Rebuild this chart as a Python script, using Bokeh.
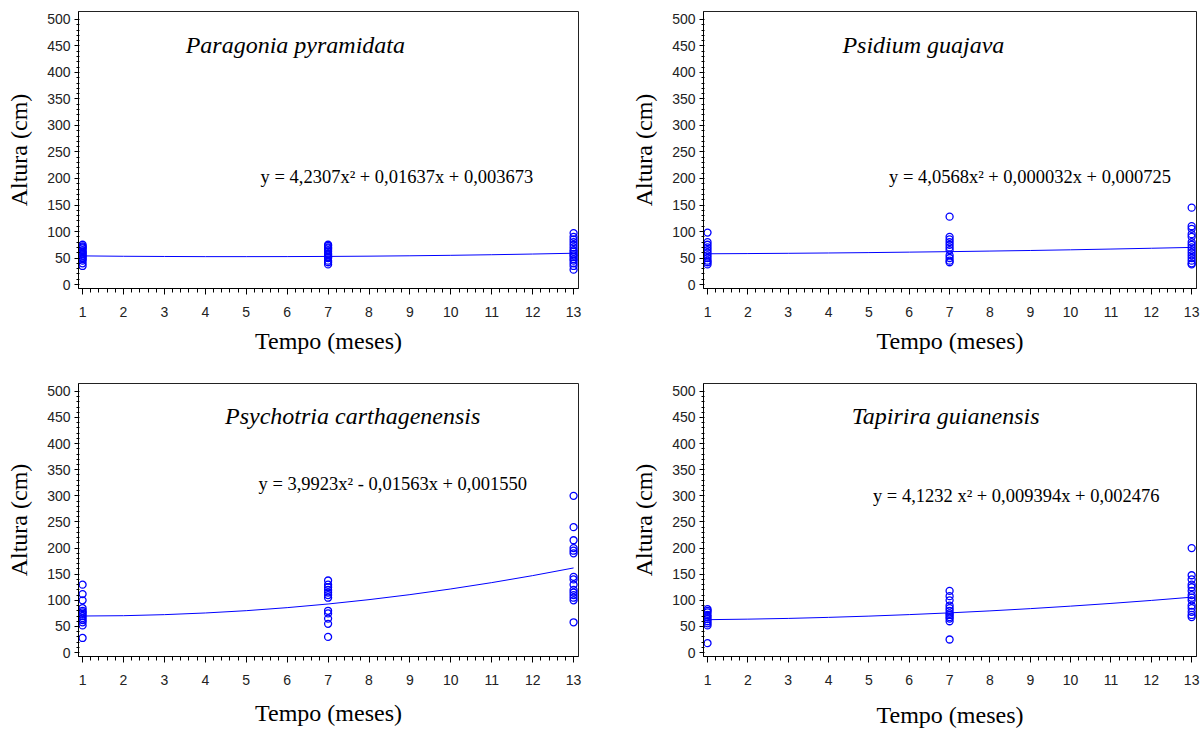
from bokeh.plotting import figure
from bokeh.layouts import gridplot
from bokeh.models import FixedTicker, Range1d
from bokeh.core.properties import value
from bokeh.embed import file_html
from bokeh.resources import INLINE

# ---------------- data ----------------
months = [1, 7, 13]
fit_months = [1, 2, 3, 4, 5, 6, 7, 8, 9, 10, 11, 12, 13]

species = ["Paragonia pyramidata", "Psidium guajava",
           "Psychotria carthagenensis", "Tapirira guianensis"]

equations = ["y = 4,2307x\u00b2 + 0,01637x + 0,003673",
             "y = 4,0568x\u00b2 + 0,000032x + 0,000725",
             "y = 3,9923x\u00b2 - 0,01563x + 0,001550",
             "y = 4,1232 x\u00b2 + 0,009394x + 0,002476"]

# observed heights (cm) at months 1, 7, 13
paragonia_m1 = [35, 40, 45, 48, 50, 53, 55, 58, 60, 62, 65, 68, 70, 72, 75]
paragonia_m7 = [38, 42, 45, 50, 52, 55, 58, 62, 65, 68, 70, 73, 75]
paragonia_m13 = [28, 35, 40, 45, 48, 52, 55, 58, 62, 65, 70, 75, 80, 85, 90, 97]

psidium_m1 = [38, 42, 45, 50, 55, 60, 65, 70, 75, 80, 98]
psidium_m7 = [42, 45, 50, 55, 65, 70, 75, 80, 85, 90, 128]
psidium_m13 = [38, 40, 45, 50, 55, 60, 65, 70, 75, 80, 90, 95, 105, 110, 145]

psychotria_m1 = [28, 52, 58, 62, 66, 70, 74, 77, 80, 85, 100, 112, 130]
psychotria_m7 = [30, 55, 65, 75, 80, 105, 110, 115, 120, 125, 130, 138]
psychotria_m13 = [58, 100, 105, 110, 115, 120, 130, 140, 145, 190, 195, 200, 215, 240, 300]

tapirira_m1 = [18, 52, 56, 60, 64, 68, 72, 77, 80, 83]
tapirira_m7 = [25, 60, 65, 68, 72, 75, 80, 85, 90, 100, 108, 118]
tapirira_m13 = [68, 72, 78, 85, 90, 100, 105, 110, 118, 125, 130, 140, 148, 200]

# fitted curves (cm) read at months 1..13
paragonia_fit = [54, 53.3, 52.9, 52.6, 52.6, 52.7, 53.0, 53.5, 54.2, 55.1, 56.2, 57.5, 59]
psidium_fit = [58, 58.4, 58.9, 59.5, 60.2, 61.1, 62, 63.1, 64.2, 65.5, 66.9, 68.4, 70]
psychotria_fit = [70, 70.6, 72.6, 75.8, 80.2, 86.0, 93.0, 101.3, 110.9, 121.8, 133.9, 147.3, 162]
tapirira_fit = [63, 64.0, 65.4, 67.4, 69.8, 72.7, 76.0, 79.8, 84.1, 88.9, 94.1, 99.8, 106]

x_ticks = list(range(1, 14))
y_ticks = list(range(0, 501, 50))

observed = [
    [paragonia_m1, paragonia_m7, paragonia_m13],
    [psidium_m1, psidium_m7, psidium_m13],
    [psychotria_m1, psychotria_m7, psychotria_m13],
    [tapirira_m1, tapirira_m7, tapirira_m13],
]
fits = [paragonia_fit, psidium_fit, psychotria_fit, tapirira_fit]

# ---------------- layout / style ----------------
SERIF = "Liberation Serif"
SANS = "Liberation Sans"
BLUE = "#0000ff"

# (width, height, border_left, border_right, border_top, border_bottom,
#  title_pos, eq_pos, x-title standoff)
layout = [
    (628, 380, 78, 50, 11, 92, (6.2, 451), (5.35, 202), 8),
    (574, 380, 70, 6, 11, 92, (6.35, 451), (5.5, 202), 8),
    (628, 350, 78, 50, 3, 72, (7.6, 453), (5.3, 323), 12),
    (574, 350, 70, 6, 3, 72, (6.9, 453), (5.1, 300), 14),
]

minor_x = [1 + i * 0.2 for i in range(61)]
minor_y = list(range(0, 501, 10))

plots = []
for i in range(4):
    w, h, bl, br, bt, bb, tpos, epos, xstand = layout[i]
    p = figure(width=w, height=h, output_backend="svg", toolbar_location=None,
               x_range=Range1d(0.9, 13.12), y_range=Range1d(-7.5, 515),
               min_border_left=bl, min_border_right=br,
               min_border_top=bt, min_border_bottom=bb)
    p.xgrid.visible = False
    p.ygrid.visible = False
    p.outline_line_color = "#222222"
    p.outline_line_width = 1
    p.background_fill_color = "white"
    p.border_fill_color = "white"

    p.xaxis.ticker = FixedTicker(ticks=x_ticks, minor_ticks=minor_x)
    p.yaxis.ticker = FixedTicker(ticks=y_ticks, minor_ticks=minor_y)
    for ax in (p.xaxis[0], p.yaxis[0]):
        ax.axis_line_color = "black"
        ax.major_tick_line_color = "black"
        ax.minor_tick_line_color = "black"
        ax.major_label_text_font = SANS
        ax.major_label_text_font_size = "14px"
        ax.major_label_text_color = "#222222"
        ax.axis_label_text_font = SERIF
        ax.axis_label_text_font_style = "normal"
        ax.axis_label_text_font_size = "24px"
        ax.axis_label_text_color = "black"
    p.xaxis.major_tick_out = 6
    p.xaxis.major_tick_in = 0
    p.xaxis.minor_tick_out = 4
    p.xaxis.minor_tick_in = 0
    p.yaxis.major_tick_out = 4
    p.yaxis.major_tick_in = 0
    p.yaxis.minor_tick_out = 2
    p.yaxis.minor_tick_in = 1
    p.xaxis.major_label_standoff = 12
    p.yaxis.major_label_standoff = 4
    p.xaxis.axis_label = "Tempo (meses)"
    p.yaxis.axis_label = "Altura (cm)"
    p.xaxis.axis_label_standoff = xstand
    p.yaxis.axis_label_standoff = 12

    # fitted curve
    p.line(fit_months, fits[i], line_color=BLUE, line_width=1)

    # observations
    xs, ys = [], []
    for m, vals in zip(months, observed[i]):
        xs += [m] * len(vals)
        ys += vals
    p.scatter(xs, ys, marker="circle", size=7, fill_color=None,
              line_color=BLUE, line_width=1.3)

    p.text(x=[tpos[0]], y=[tpos[1]], text=[species[i]],
           text_font=value(SERIF), text_font_style="italic",
           text_font_size="24px", text_align="center",
           text_baseline="middle", text_color="black")
    p.text(x=[epos[0]], y=[epos[1]], text=[equations[i]],
           text_font=value(SERIF), text_font_size="18.5px",
           text_align="left", text_baseline="middle", text_color="black")
    plots.append(p)

grid = gridplot([[plots[0], plots[1]], [plots[2], plots[3]]],
                toolbar_location=None)

open("out.html", "w").write(file_html(grid, INLINE))
